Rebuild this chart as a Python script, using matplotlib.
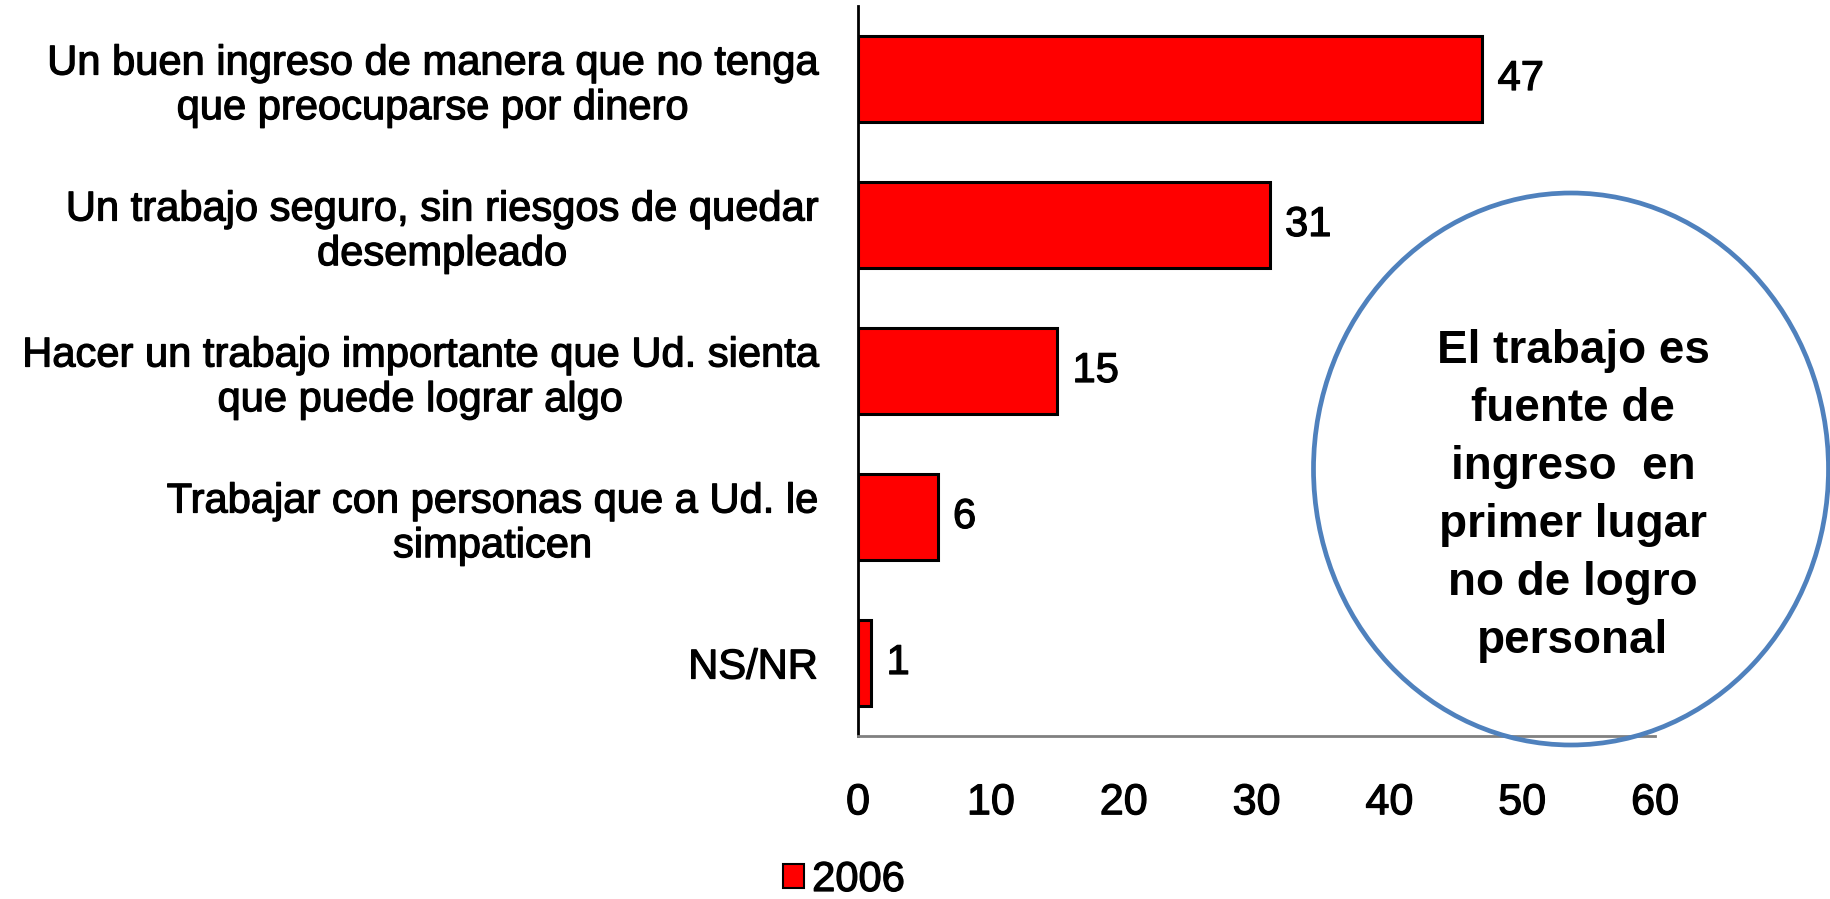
import matplotlib
matplotlib.use("Agg")
import matplotlib.pyplot as plt
import matplotlib.patheffects as pe
from matplotlib.patches import Ellipse, Patch

plt.rcParams['font.family'] = ['Liberation Sans', 'DejaVu Sans']

# datos
categorias = [
    "Un buen ingreso de manera que no tenga\nque preocuparse por dinero",
    "Un trabajo seguro, sin riesgos de quedar\ndesempleado",
    "Hacer un trabajo importante que Ud. sienta\nque puede lograr algo",
    "Trabajar con personas que a Ud. le\nsimpaticen",
    "NS/NR",
]
valores = [47, 31, 15, 6, 1]
serie = "2006"
xticks = [0, 10, 20, 30, 40, 50, 60]
nota = "El trabajo es\nfuente de\ningreso  en\nprimer lugar\nno de logro\npersonal"

W, H = 1831, 899
grueso = [pe.withStroke(linewidth=0.9, foreground='black')]

fig = plt.figure(figsize=(W / 100, H / 100), dpi=100, facecolor='white')
ax = fig.add_axes([858 / W, 1 - 736 / H, (1655 - 858) / W, (736 - 6) / H])

ypos = list(range(len(categorias)))[::-1]
bars = ax.barh(ypos, valores, height=0.59, color='#ff0000',
               edgecolor='black', linewidth=2.2, label=serie, zorder=3)
etiquetas = ax.bar_label(bars, labels=[str(v) for v in valores], padding=11,
                         fontsize=30, color='black')
for t in etiquetas:
    t.set_path_effects(grueso)

ax.set_xlim(0, 60)
ax.set_ylim(-0.5, len(categorias) - 0.5)
ax.set_xticks(xticks)
ax.set_xticklabels([str(t) for t in xticks], fontsize=31)
ax.set_yticks(ypos)
ax.set_yticklabels(categorias, fontsize=30, linespacing=1.15)
for lbl in ax.get_yticklabels():
    lbl.set_multialignment('center')
    lbl.set_path_effects(grueso)
for lbl in ax.get_xticklabels():
    lbl.set_path_effects(grueso)
ax.tick_params(axis='x', length=0, pad=34)
ax.tick_params(axis='y', length=0, pad=29)

for s in ['top', 'right']:
    ax.spines[s].set_visible(False)
ax.spines['left'].set_color('black')
ax.spines['left'].set_linewidth(2)
ax.spines['bottom'].set_color('#808080')
ax.spines['bottom'].set_linewidth(2)

# leyenda
handle = Patch(facecolor='#ff0000', edgecolor='black', linewidth=1.5)
leg = fig.legend([handle], [serie], loc='center left',
                 bbox_to_anchor=(783 / W, 1 - 880 / H), frameon=False,
                 fontsize=30, handlelength=0.5, handleheight=0.5,
                 handletextpad=0.2, borderpad=0, borderaxespad=0)
for t in leg.get_texts():
    t.set_path_effects(grueso)

# elipse con comentario
elipse = Ellipse((1571 / W, 1 - 469 / H), 515 / W, 552 / H,
                 transform=fig.transFigure, fill=False,
                 edgecolor='#4f81bd', linewidth=3.4, zorder=5)
fig.patches.append(elipse)
fig.text(1573 / W, 1 - 496 / H, nota, ha='center', va='center',
         fontsize=33, fontweight='bold', linespacing=1.41,
         multialignment='center')

fig.savefig('out.png', dpi=100, facecolor='white')
